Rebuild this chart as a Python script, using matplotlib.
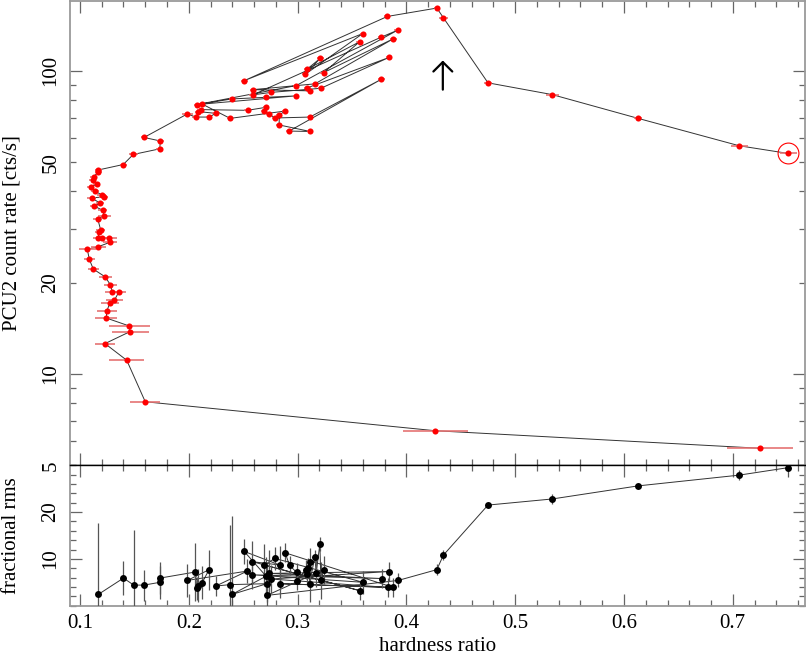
import matplotlib
matplotlib.use("Agg")
import matplotlib.pyplot as plt
from matplotlib.ticker import FixedLocator, LogLocator, MultipleLocator, FuncFormatter

plt.rcParams['font.family'] = ['Liberation Serif', 'DejaVu Serif']
plt.rcParams['font.size'] = 15

# top panel: hardness ratio vs PCU2 count rate (time order)
hr = [0.725, 0.4266, 0.160, 0.143, 0.123, 0.146, 0.1454, 0.1242, 0.1246, 0.1276,
      0.1316, 0.1359, 0.1297, 0.1279, 0.1233, 0.1122, 0.1086, 0.1067, 0.1168, 0.1276,
      0.1270, 0.1205, 0.1168, 0.1175, 0.1190, 0.1163, 0.1224, 0.1209, 0.1129, 0.1184,
      0.1108, 0.1218, 0.1200, 0.1138, 0.1098, 0.1154, 0.1117, 0.1126, 0.1168, 0.1168,
      0.1398, 0.1490, 0.1733, 0.1739, 0.1589,
      0.1987, 0.2064, 0.2187, 0.2248, 0.2088, 0.2110, 0.2540, 0.2708, 0.2690, 0.2739,
      0.2791, 0.3113, 0.3770, 0.2923, 0.3116, 0.2831, 0.2831, 0.2886, 0.2380, 0.2120,
      0.2396, 0.2711, 0.2987, 0.2074, 0.2987, 0.3920, 0.3767, 0.2588, 0.2754, 0.3214,
      0.3840, 0.3090, 0.3116, 0.2590, 0.3160, 0.3880, 0.3240, 0.3570, 0.3086, 0.3210,
      0.3070, 0.3600, 0.2512, 0.3826,
      0.428, 0.434, 0.475, 0.534, 0.613, 0.706, 0.751]
rate = [5.69, 6.5, 8.1, 11.1, 12.6, 13.8, 14.4, 15.3, 16.1, 17.2,
        17.5, 18.7, 18.7, 19.7, 20.9, 22.2, 23.9, 25.8, 26.3, 27.2,
        28.2, 28.2, 28.0, 29.5, 29.9, 32.5, 33.3, 34.7, 35.8, 36.6,
        38.1, 38.4, 39.0, 40.1, 41.5, 42.2, 43.5, 44.8, 46.3, 47.1,
        49.1, 53.0, 55.3, 58.7, 60.3,
        72.1, 70.4, 70.4, 72.4, 73.4, 74.5, 74.1, 75.8, 73.5, 72.1,
        69.9, 70.4, 93.8, 63.3, 63.1, 66.3, 71.5, 73.7, 69.7, 77.8,
        80.8, 81.8, 82.7, 77.4, 89.4, 136.2, 129.1, 83.3, 84.9, 87.6,
        110.7, 87.9, 85.9, 86.7, 90.6, 127.6, 98.7, 124.7, 101.2, 110.1,
        97.4, 132.8, 92.9, 151.2,
        161.1, 149.7, 91.3, 83.5, 69.7, 56.6, 53.4]
hr_err = [0.030, 0.030, 0.014, 0.016, 0.009, 0.017, 0.019, 0.010, 0.009, 0.008,
          0.008, 0.006, 0.007, 0.006, 0.006, 0.005, 0.005, 0.008, 0.007, 0.006,
          0.007, 0.005, 0.005, 0.004, 0.004, 0.004, 0.006, 0.004, 0.004, 0.004,
          0.004, 0.004, 0.004, 0.004, 0.003, 0.003, 0.003, 0.003, 0.003, 0.003,
          0.003, 0.004, 0.003, 0.003, 0.003,
          0.005, 0.003, 0.003, 0.003, 0.003, 0.003, 0.003, 0.003, 0.003, 0.003,
          0.003, 0.003, 0.003, 0.003, 0.003, 0.003, 0.003, 0.003, 0.003, 0.003,
          0.003, 0.003, 0.003, 0.003, 0.003, 0.003, 0.003, 0.003, 0.003, 0.003,
          0.003, 0.003, 0.003, 0.003, 0.003, 0.003, 0.003, 0.003, 0.003, 0.003,
          0.003, 0.003, 0.003, 0.003,
          0.003, 0.004, 0.004, 0.006, 0.004, 0.008, 0.008]

# bottom panel: fractional rms
rms_hr = [0.1168, 0.140, 0.1494, 0.1589, 0.1736, 0.1736, 0.2061, 0.2073, 0.2088, 0.2122,
          0.2187, 0.1987, 0.2539, 0.2248, 0.2380, 0.2718, 0.2396, 0.2711, 0.2509, 0.2834,
          0.2585, 0.3573, 0.2693, 0.2791, 0.3601, 0.2585, 0.3772, 0.2739, 0.3840, 0.2754,
          0.3834, 0.2834, 0.3880, 0.2886, 0.2926, 0.2993, 0.2993, 0.3077, 0.3086, 0.3095,
          0.3116, 0.3110, 0.3159, 0.3171, 0.3205, 0.3214, 0.3242, 0.2718, 0.3925,
          0.428, 0.434, 0.475, 0.534, 0.613, 0.706, 0.751]
rms = [2.4, 5.9, 4.4, 4.4, 5.0, 5.9, 7.2, 3.7, 4.3, 4.9,
       7.7, 5.4, 7.4, 4.2, 4.5, 4.7, 2.4, 6.3, 11.6, 8.7,
       9.4, 3.2, 8.7, 10.1, 5.0, 6.6, 5.8, 6.9, 7.3, 5.7,
       3.9, 4.7, 3.9, 11.3, 8.6, 7.1, 5.3, 7.7, 6.7, 8.1,
       9.4, 4.7, 10.5, 7.0, 13.2, 5.4, 7.7, 2.2, 5.4,
       7.7, 10.8, 21.5, 22.8, 25.6, 27.9, 29.5]
rms_err = [15.3, 3.6, 11.8, 3.3, 3.5, 3.5, 6.3, 2.5, 3.5, 3.5,
           4.3, 3.5, 2.5, 2.2, 12.8, 4.0, 16.7, 4.0, 2.6, 4.0,
           4.5, 2.0, 4.5, 2.5, 2.5, 3.0, 2.0, 5.0, 2.0, 3.0,
           2.0, 3.0, 2.0, 2.0, 2.0, 2.0, 2.0, 2.0, 2.0, 2.0,
           3.0, 4.0, 1.5, 3.0, 1.5, 4.0, 3.0, 3.0, 1.5,
           1.2, 1.0, 0.5, 1.0, 0.5, 1.0, 2.0]

fig = plt.figure(figsize=(8.06, 6.57), dpi=100)
ax1 = fig.add_axes([0.0868, 0.2918, 0.9120, 0.7067])
ax2 = fig.add_axes([0.0868, 0.0781, 0.9120, 0.2137], sharex=ax1)

# count rate vs hardness
ax1.plot(hr, rate, '-', color='#333333', lw=0.7, zorder=2)
ax1.errorbar(hr, rate, xerr=hr_err, fmt='none', ecolor='#e57373', elinewidth=1.2, zorder=3)
ax1.plot(hr, rate, 'o', color='red', ms=4.4, mew=0, zorder=4)
ax1.plot(hr[-1], rate[-1], 'o', mfc='none', mec='red', ms=15, mew=0.8, zorder=4)
ax1.annotate('', xy=(0.4335, 110.5), xytext=(0.4335, 84.9),
             arrowprops=dict(arrowstyle='->,head_length=0.4,head_width=0.4',
                             lw=1.6, color='black', mutation_scale=17))

ax1.set_yscale('log')
ax1.set_ylim(5, 170)
ax1.set_xlim(0.0908, 0.7664)
ax1.yaxis.set_major_locator(FixedLocator([10, 100]))
ax1.yaxis.set_minor_locator(LogLocator(base=10, subs=range(2, 10)))
ax1.yaxis.set_major_formatter(FuncFormatter(lambda v, p: '%d' % v))
ax1.yaxis.set_minor_formatter(FuncFormatter(
    lambda v, p: '%d' % round(v) if round(v) in (5, 20, 50) else ''))
ax1.set_ylabel('PCU2 count rate [cts/s]')
ax1.yaxis.set_label_coords(-0.066, 0.5)
plt.setp(ax1.get_xticklabels(), visible=False)

# fractional rms
ax2.plot(rms_hr, rms, '-', color='#333333', lw=0.7, zorder=2)
ax2.errorbar(rms_hr, rms, yerr=rms_err, fmt='none', ecolor='#555555', elinewidth=0.9, zorder=3)
ax2.plot(rms_hr, rms, 'o', color='black', ms=5, mew=0, zorder=4)
ax2.set_ylim(0, 30)
ax2.yaxis.set_major_locator(FixedLocator([10, 20]))
ax2.yaxis.set_minor_locator(MultipleLocator(2))
ax2.xaxis.set_major_locator(MultipleLocator(0.1))
ax2.xaxis.set_minor_locator(MultipleLocator(0.02))
ax2.set_ylabel('fractional rms')
ax2.yaxis.set_label_coords(-0.066, 0.5)
ax2.set_xlabel('hardness ratio', labelpad=3)

for ax in (ax1, ax2):
    ax.tick_params(which='both', direction='in', top=True, right=True, color='#666666')
    ax.tick_params(which='major', length=8.5, width=0.9)
    ax.tick_params(which='minor', length=4.5, width=0.9)
    ax.tick_params(axis='y', which='both', labelrotation=90, pad=7)
    for lbl in ax.get_yticklabels(which='both'):
        lbl.set_va('center')
    ax.tick_params(axis='x', pad=6)
    for s in ax.spines.values():
        s.set_color('#9a9a9a')
        s.set_linewidth(1.3)
ax1.spines['bottom'].set_color('black')
ax1.spines['bottom'].set_linewidth(1.0)
ax2.spines['top'].set_color('black')
ax2.spines['top'].set_linewidth(1.0)

fig.savefig('out.png', dpi=100)
